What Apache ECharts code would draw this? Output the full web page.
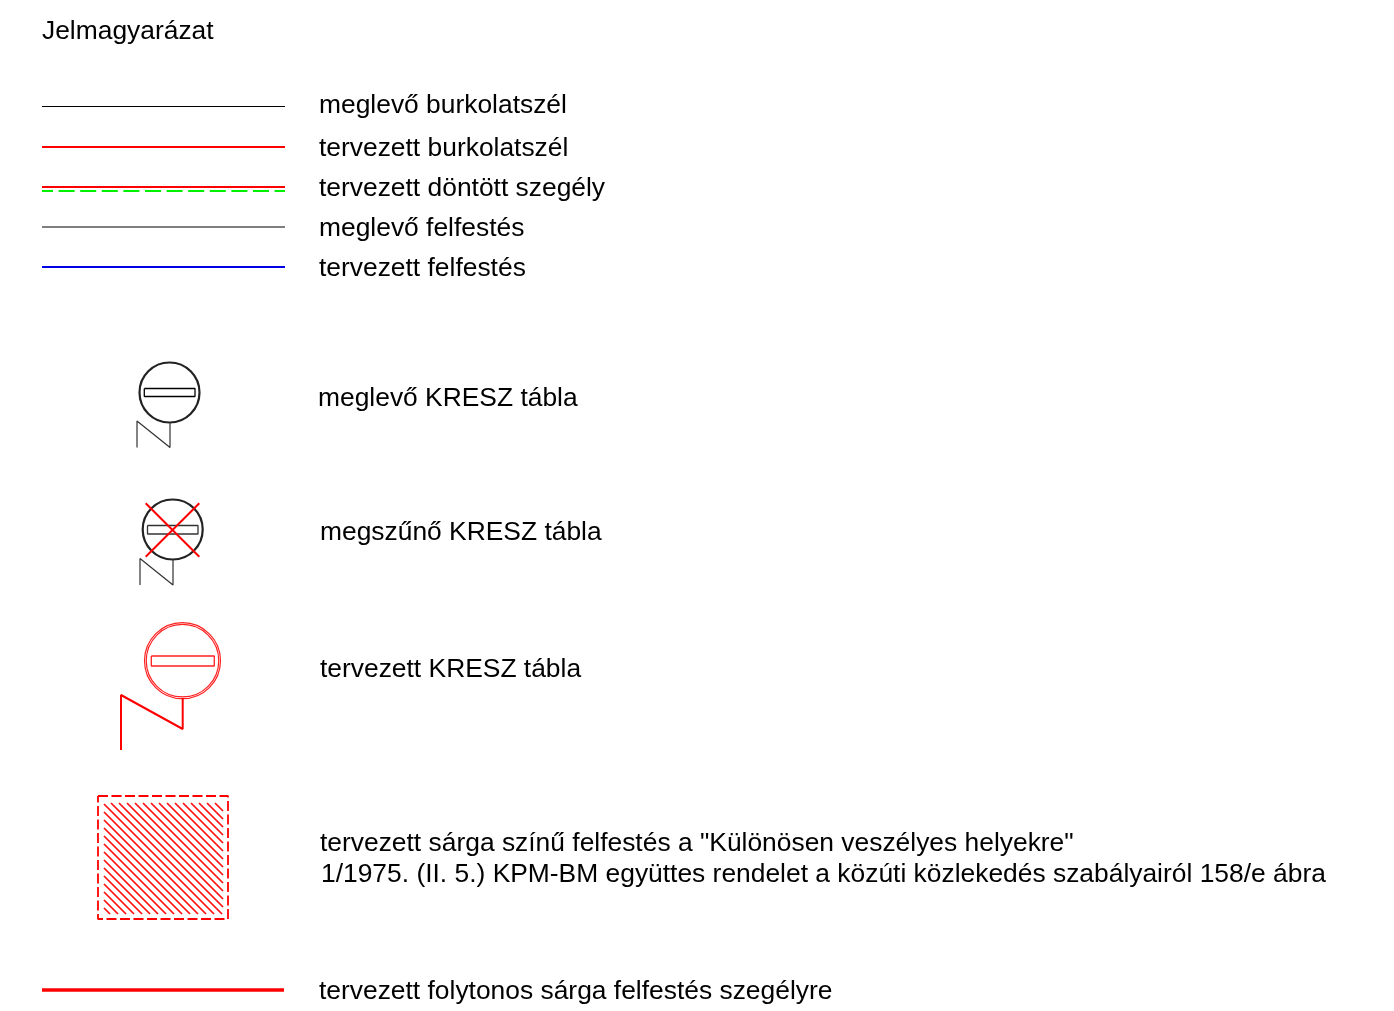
<!DOCTYPE html>
<html><head><meta charset="utf-8">
<style>html,body{margin:0;padding:0;background:#fff}#c{width:1394px;height:1011px}</style>
<script src="https://cdn.jsdelivr.net/npm/echarts@6/dist/echarts.min.js"></script></head>
<body><div id="c"></div>
<script>
const FONT='"Liberation Sans"';
const titleText=['Jelmagyarázat',42,32];
const labelRows=[
 ['meglevő burkolatszél',319,106],
 ['tervezett burkolatszél',319,149],
 ['tervezett döntött szegély',319,189],
 ['meglevő felfestés',319,229],
 ['tervezett felfestés',319,269],
 ['meglevő KRESZ tábla',318,399],
 ['megszűnő KRESZ tábla',320,533],
 ['tervezett KRESZ tábla',320,670],
 ['tervezett sárga színű felfestés a "Különösen veszélyes helyekre"',320,844],
 ['1/1975. (II. 5.) KPM-BM együttes rendelet a közúti közlekedés szabályairól 158/e ábra',321,875],
 ['tervezett folytonos sárga felfestés szegélyre',319,992]
];
// [x0,x1,y,color,width,dash,dashOffset]
const legendLines=[
 [42,285,106.5,'#000000',1,null,0],
 [42,285,147,'#ff0000',2,null,0],
 [42,285,187,'#ff0000',2,null,0],
 [42,285,191,'#00f000',2.2,[16,5.6],5],
 [42,285,227,'#555555',1.4,null,0],
 [42,285,267,'#0000e8',2,null,0],
 [42,284,990,'#ff0000',3.5,null,0]
];
const signCircles=[[169.5,392.5,60,'#222222',2.2],[172.7,529.5,60,'#222222',2.2],[182.5,660.7,76,'#ff2020',1.2],[182.5,660.7,72.5,'#ff2020',1.2]];
const signPaths=[
 [[[144.3,388.5],[195,388.5],[195,396.5],[144.3,396.5],[144.3,388.5]],'#000000',1.3],
 [[[170,422],[170,447.5],[137,421],[137,447.5]],'#333333',1.2],
 [[[147.5,525.5],[198,525.5],[198,534],[147.5,534],[147.5,525.5]],'#333333',1.3],
 [[[173,560],[173,585],[140,558.5],[140,585]],'#333333',1.2],
 [[[145.7,503.3],[199.3,556.7]],'#ff0000',2],
 [[[199.3,503.3],[145.7,556.7]],'#ff0000',2],
 [[[151.3,656],[214.3,656],[214.3,666],[151.3,666],[151.3,656]],'#ff2020',1.3],
 [[[182.7,698],[182.7,729],[121,695],[121,750]],'#ff0000',2],
 [[[98,796],[228,796],[228,919],[98,919],[98,796]],'#ff0000',1.8,[10,3.5]]
];
const hatchBox=[104,803,223,914];
const hatchOffsets=[-804,-796,-788,-780,-772,-764,-756,-748,-740,-732,-724,-716,-708,-700,-692,-684,-676,-668,-660,-652,-644,-636,-628,-620,-612,-604,-596,-588];

function lineSeries(pts,color,width,dash,off){
 return {type:'line',data:pts,symbol:'none',silent:true,animation:false,clip:false,
  lineStyle:{color:color,width:width,type:dash||'solid',dashOffset:off||0,cap:'butt',opacity:1}};
}
function hatchSeg(k){ // y = x - k clipped to hatchBox
 const [l,t,r,b]=hatchBox;
 const x0=Math.max(l,t+k),x1=Math.min(r,b+k);
 return x1>x0?[[x0,x0-k],[x1,x1-k]]:null;
}
const series=[];
legendLines.forEach(a=>series.push(lineSeries([[a[0],a[2]],[a[1],a[2]]],a[3],a[4],a[5],a[6])));
hatchOffsets.forEach(k=>{const s=hatchSeg(k);if(s)series.push(lineSeries(s,'#ff1010',1.7));});
signCircles.forEach(c=>series.push({type:'scatter',silent:true,animation:false,clip:false,
 data:[[c[0],c[1]]],symbol:'circle',symbolSize:c[2],
 itemStyle:{color:'rgba(0,0,0,0)',borderColor:c[3],borderWidth:c[4],opacity:1}}));
signPaths.forEach(p=>series.push(lineSeries(p[0],p[1],p[2],p[3])));
const textOf=(r,size)=>({value:[r[1],r[2]],label:{show:true,position:'right',distance:0,formatter:()=>r[0],
  fontFamily:FONT,fontSize:size,color:'#000'}});
series.push({type:'scatter',silent:true,animation:false,clip:false,symbolSize:0,itemStyle:{opacity:1},
 data:[textOf(titleText,26.4)].concat(labelRows.map(r=>textOf(r,26.4)))});
const chart=echarts.init(document.getElementById('c'),null,{renderer:'canvas'});
chart.setOption({animation:false,backgroundColor:'#fff',tooltip:{show:false},
 grid:{left:0,right:0,top:0,bottom:0},
 xAxis:{type:'value',min:0,max:1394,show:false},
 yAxis:{type:'value',min:0,max:1011,inverse:true,show:false},
 series:series});
</script></body></html>
